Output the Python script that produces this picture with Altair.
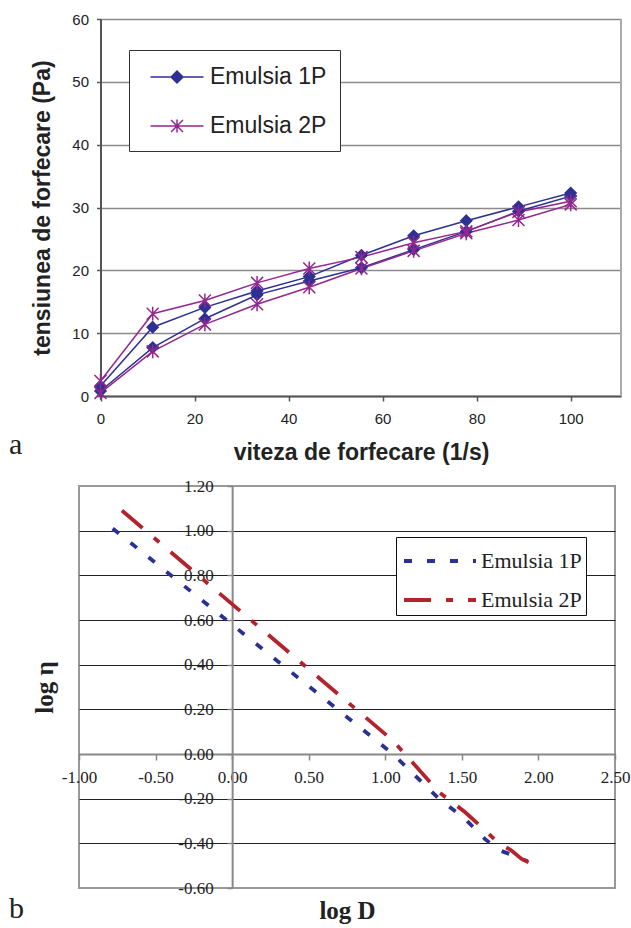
import altair as alt
import pandas as pd

# ---------------- data: chart a (hysteresis curves) ----------------
serii = ["Emulsia 1P", "Emulsia 2P"]
viteza = [0, 11.1, 22.2, 33.3, 44.4, 55.5, 66.6, 77.8, 88.9, 100]
tau_1P_jos = [0.8, 7.7, 12.3, 16.1, 18.3, 20.4, 23.3, 26.2, 29.4, 31.8]
tau_1P_sus = [1.6, 10.95, 14.1, 16.7, 19.0, 22.4, 25.5, 27.9, 30.1, 32.3]
tau_2P_jos = [0.5, 7.1, 11.4, 14.6, 17.3, 20.3, 23.1, 25.9, 28.0, 30.5]
tau_2P_sus = [2.4, 13.1, 15.2, 18.0, 20.3, 22.1, 24.4, 26.2, 29.3, 31.0]

# ---------------- data: chart b (log-log) ----------------
logD_1P = [-0.78, 1.05, 1.35, 1.52, 1.65, 1.74, 1.82, 1.89, 1.93]
logeta_1P = [1.01, 0.0, -0.20, -0.29, -0.38, -0.43, -0.45, -0.47, -0.48]
logD_2P = [-0.72, 1.05, 1.35, 1.52, 1.65, 1.74, 1.82, 1.89, 1.95, 2.0]
logeta_2P = [1.09, 0.06, -0.17, -0.26, -0.34, -0.40, -0.43, -0.47, -0.49, -0.51]

ticks_xa = [0, 20, 40, 60, 80, 100]
ticks_ya = [0, 10, 20, 30, 40, 50, 60]
ticks_xb = [-1.0, -0.5, 0.0, 0.5, 1.0, 1.5, 2.0, 2.5]
ticks_yb = [-0.6, -0.4, -0.2, 0.0, 0.2, 0.4, 0.6, 0.8, 1.0, 1.2]

# ---------------- tables ----------------
rows_a = []
for s, jos, sus in [(serii[0], tau_1P_jos, tau_1P_sus), (serii[1], tau_2P_jos, tau_2P_sus)]:
    k = 0
    for x, t in zip(viteza, jos):
        rows_a.append({"serie": s, "viteza": x, "tau": t, "ord": k}); k += 1
    for x, t in zip(viteza[::-1], sus[::-1]):
        rows_a.append({"serie": s, "viteza": x, "tau": t, "ord": k}); k += 1
df_a = pd.DataFrame(rows_a)

rows_b = []
for s, xs, ys in [(serii[0], logD_1P, logeta_1P), (serii[1], logD_2P, logeta_2P)]:
    for x, y in zip(xs, ys):
        rows_b.append({"serie_b": s, "logD": x, "logeta": y})
df_b = pd.DataFrame(rows_b)

df_frame = pd.DataFrame({"xr": [110.7]})

# ---------------- style ----------------
BLUE_A = "#2E3192"
PURP_A = "#93278F"
BLUE_B = "#2B3192"
RED_B = "#B3232D"
SANS = "Liberation Sans"
SERIF = "Liberation Serif"

diamond = "M0,-0.92L0.92,0L0,0.92L-0.92,0Z"
asterisk = "M-1,-1L1,1M-1,1L1,-1M0,-1.15L0,1.15"
leg_diamond = "M-2,0L2,0M-0.45,0L0,-0.45L0.45,0L0,0.45Z"
leg_asterisk = "M-2,0L2,0M-0.45,-0.45L0.45,0.45M-0.45,0.45L0.45,-0.45M0,-0.5L0,0.5"

leg_a = alt.Legend(
    title=None, orient="none", legendX=50, legendY=31,
    symbolSize=702, symbolStrokeWidth=1.5, symbolOffset=21,
    labelFont=SANS, labelFontSize=23, labelColor="#222", labelOffset=19,
    labelExpr="datum.label + '\u00a0\u00a0\u00a0'",
    rowPadding=23, padding=13, strokeColor="#333", fillColor="white",
)

W_A, H_A = 542, 377
sc_xa = alt.Scale(domain=[0, 110.7], range=[21.5, W_A], nice=False, zero=False)
xa = alt.X("viteza:Q", scale=sc_xa,
           axis=alt.Axis(values=ticks_xa, grid=False, domainColor="#555", domainWidth=2,
                         tickColor="#555", tickWidth=1.5, tickSize=5,
                         labelFont=SANS, labelFontSize=15, labelColor="#222", labelPadding=10,
                         labelFlush=False,
                         title="viteza de forfecare (1/s)", titleFont=SANS, titleFontSize=23,
                         titleFontWeight="bold", titleColor="#222", titleX=282, titlePadding=15))
ya = alt.Y("tau:Q",
           scale=alt.Scale(domain=[0, 60], nice=False, zero=False),
           axis=alt.Axis(values=ticks_ya, grid=True, gridColor="#8a8a8a", gridWidth=1.5,
                         domainColor="#555", domainWidth=2, tickColor="#555", tickWidth=1.5,
                         tickSize=4, offset=-21.5,
                         labelFont=SANS, labelFontSize=15, labelColor="#222", labelPadding=8,
                         title="tensiunea de forfecare (Pa)", titleFont=SANS, titleFontSize=23,
                         titleFontWeight="bold", titleColor="#222", titlePadding=17))

col_a = alt.Scale(domain=serii, range=[BLUE_A, PURP_A])

lines_a = alt.Chart(df_a).mark_line(strokeWidth=1.5).encode(
    x=xa, y=ya,
    color=alt.Color("serie:N", scale=col_a, legend=None),
    order="ord:Q",
)
points_a = alt.Chart(df_a).mark_point(filled=False, opacity=1, strokeWidth=1.5, size=144).encode(
    x=xa, y=ya,
    color=alt.Color("serie:N", scale=col_a, legend=None),
    fill=alt.Fill("serie:N", scale=col_a, legend=None),
    shape=alt.Shape("serie:N", scale=alt.Scale(domain=serii, range=[diamond, asterisk]), legend=None),
)
legend_layer_a = alt.Chart(df_a).transform_filter("false").mark_point(
    filled=False, opacity=1, strokeWidth=1.5
).encode(
    color=alt.Color("serie:N", scale=col_a, legend=leg_a),
    fill=alt.Fill("serie:N", scale=col_a, legend=leg_a),
    shape=alt.Shape("serie:N", scale=alt.Scale(domain=serii, range=[leg_diamond, leg_asterisk]),
                    legend=leg_a),
)
frame_a = alt.Chart(df_frame).mark_rule(color="#aaaaaa", strokeWidth=2).encode(
    x=alt.X("xr:Q", scale=sc_xa)
)

chart_a = alt.layer(frame_a, lines_a, points_a, legend_layer_a).resolve_scale(
    color="independent", fill="independent", shape="independent"
).properties(
    width=W_A, height=H_A,
    title=alt.TitleParams("a", orient="bottom", anchor="start", frame="group", dx=-70, dy=-38,
                          font=SERIF, fontSize=30, fontWeight="normal", color="#222"),
)

# ---------------- chart b ----------------
W_B, H_B = 536, 402
leg_b = alt.Legend(
    title=None, orient="none", legendX=317, legendY=51,
    symbolType="M-2,0L2,0", symbolSize=1296, symbolStrokeWidth=4, symbolOffset=20,
    labelFont=SERIF, labelFontSize=22, labelColor="#222", labelOffset=21,
    labelExpr="datum.label + '\u00a0'",
    rowPadding=8, padding=4, strokeColor="#111", fillColor="white",
)
lab_expr = "(datum.value < 0 ? '-' : '') + format(abs(datum.value), '.2f')"
xb = alt.X("logD:Q",
           scale=alt.Scale(domain=[-1, 2.5], nice=False, zero=False),
           axis=alt.Axis(values=ticks_xb, grid=False, offset=-134,
                         domainColor="#888", domainWidth=2, tickColor="#888", tickWidth=1.5,
                         tickSize=6, labelExpr=lab_expr, labelFlush=False, labelOverlap=False,
                         labelFont=SERIF, labelFontSize=17, labelColor="#222", labelPadding=9,
                         title="log D", titleFont=SERIF, titleFontSize=25, titleFontWeight="bold",
                         titleColor="#222", titleX=268, titleY=144))
yb = alt.Y("logeta:Q",
           scale=alt.Scale(domain=[-0.6, 1.2], nice=False, zero=False),
           axis=alt.Axis(values=ticks_yb, grid=True,
                         gridColor=alt.condition("datum.value > 1.1 || datum.value < -0.5",
                                                 alt.value("#999999"), alt.value("#222222")),
                         gridWidth=1.2, offset=-153.14,
                         domainColor="#888", domainWidth=2, tickColor="#888", tickWidth=1.5,
                         tickSize=5, labelExpr=lab_expr, labelOverlap=False, labelFlush=False,
                         labelFont=SERIF, labelFontSize=17, labelColor="#222", labelPadding=14,
                         title="log η", titleFont=SERIF, titleFontSize=25, titleFontWeight="bold",
                         titleColor="#222", titleX=-175, titleY=201))

lines_b = alt.Chart(df_b).mark_line(strokeWidth=3.8, strokeCap="butt").encode(
    x=xb, y=yb,
    color=alt.Color("serie_b:N", scale=alt.Scale(domain=serii, range=[BLUE_B, RED_B]), legend=leg_b),
    strokeDash=alt.StrokeDash("serie_b:N",
                              scale=alt.Scale(domain=serii, range=[[8, 15], [27, 15, 7, 15]]),
                              legend=leg_b),
)

chart_b = alt.layer(lines_b).properties(
    width=W_B, height=H_B,
    view=alt.ViewBackground(stroke="#999999", strokeWidth=2),
    title=alt.TitleParams("b", orient="bottom", anchor="start", frame="group", dx=-70, dy=-33,
                          font=SERIF, fontSize=30, fontWeight="normal", color="#222"),
)

chart = alt.vconcat(chart_a, chart_b, spacing=90, bounds="flush").resolve_scale(
    color="independent", shape="independent", fill="independent", strokeDash="independent"
).properties(
    padding={"left": 8, "top": 12, "right": 0, "bottom": 0},
    background="white",
).configure_view(stroke=None)

chart.save("out.html", embed_options={"renderer": "svg", "actions": False})
